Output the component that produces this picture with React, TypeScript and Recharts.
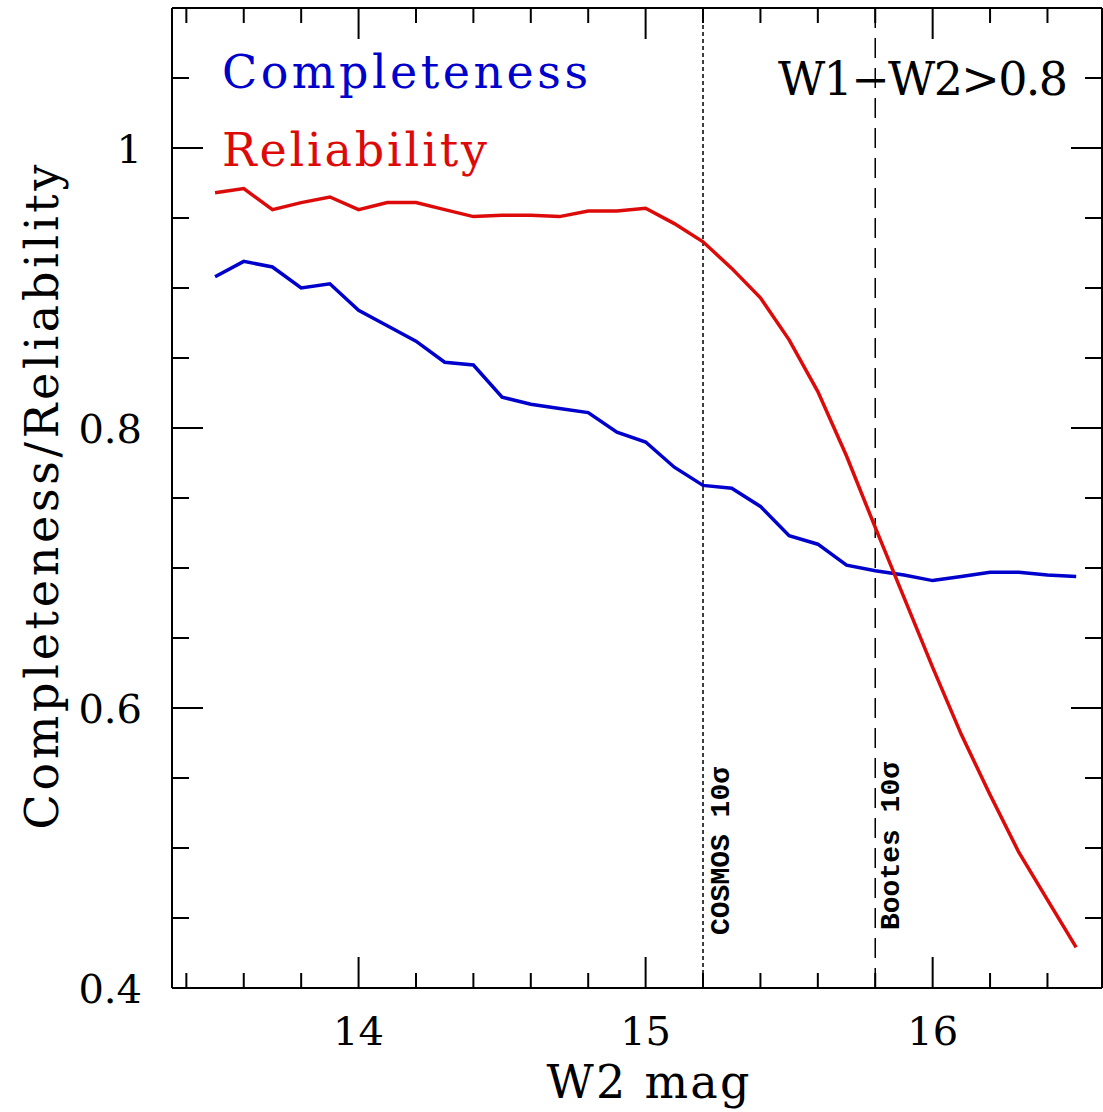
import { LineChart, Line, XAxis, YAxis, ReferenceLine } from "recharts";

// W2 magnitude bins
const mags = [
  13.5, 13.6, 13.7, 13.8, 13.9, 14.0, 14.1, 14.2, 14.3, 14.4, 14.5, 14.6, 14.7, 14.8, 14.9, 15.0,
  15.1, 15.2, 15.3, 15.4, 15.5, 15.6, 15.7, 15.8, 15.9, 16.0, 16.1, 16.2, 16.3, 16.4, 16.5,
];

const completeness = [
  0.908, 0.919, 0.915, 0.9, 0.903, 0.884, 0.873, 0.862, 0.847, 0.845, 0.822, 0.817, 0.814, 0.811, 0.797, 0.79,
  0.772, 0.759, 0.757, 0.744, 0.723, 0.717, 0.702, 0.698, 0.695, 0.691, 0.694, 0.697, 0.697, 0.695, 0.694,
];

const reliability = [
  0.968, 0.971, 0.956, 0.961, 0.965, 0.956, 0.961, 0.961, 0.956, 0.951, 0.952, 0.952, 0.951, 0.955, 0.955, 0.957,
  0.946, 0.933, 0.914, 0.893, 0.863, 0.826, 0.78, 0.729, 0.679, 0.629, 0.581, 0.538, 0.497, 0.463, 0.429,
];

const xMajor = [14, 15, 16];
const xMinor = [13.4, 13.6, 13.8, 14.2, 14.4, 14.6, 14.8, 15.2, 15.4, 15.6, 15.8, 16.2, 16.4];
const yMajor = [0.4, 0.6, 0.8, 1];
const yMinor = [0.45, 0.5, 0.55, 0.65, 0.7, 0.75, 0.85, 0.9, 0.95, 1.05];

const cosmosLimit = 15.2;
const bootesLimit = 15.8;

const BLUE = "#0000cc";
const RED = "#dd0a0a";
const SERIF = "'DejaVu Serif', serif";
const MONO = "'Liberation Mono', monospace";

const WIDTH = 1103;
const HEIGHT = 1112;
const MARGIN = { top: 8, right: 0, bottom: 123, left: 171 };
const AXIS_W = 1;

const data = mags.map((mag, i) => ({
  mag,
  completeness: completeness[i],
  reliability: reliability[i],
}));

const xTicks = [...xMajor, ...xMinor];
const yTicks = [...yMajor, ...yMinor];
const xDomain = [13.35, 16.59];
const yDomain = [0.4, 1.1];

// plot box, for the tick marks along the top edge of the frame
const plotLeft = MARGIN.left + AXIS_W;
const plotRight = WIDTH - MARGIN.right - AXIS_W;
const topX = (v: number): number =>
  plotLeft + ((v - xDomain[0]) / (xDomain[1] - xDomain[0])) * (plotRight - plotLeft);

const fmt = (v: number): string => (v === 1 ? "1" : String(v));

function BottomTick(props: any) {
  const { x, y, payload } = props;
  const major = xMajor.includes(payload.value);
  return (
    <g>
      <line x1={x} x2={x} y1={y} y2={y - (major ? 31 : 15)} stroke="#000" strokeWidth={2} />
      {major && (
        <text x={x} y={y + 57} textAnchor="middle" fontFamily={SERIF} fontSize={40} fill="#000">
          {payload.value}
        </text>
      )}
    </g>
  );
}

function LeftTick(props: any) {
  const { x, y, payload } = props;
  const major = yMajor.includes(payload.value);
  return (
    <g>
      <line x1={x} x2={x + (major ? 31 : 17)} y1={y} y2={y} stroke="#000" strokeWidth={2} />
      {major && (
        <text x={x - 30} y={y + 15} textAnchor="end" fontFamily={SERIF} fontSize={40} fill="#000">
          {fmt(payload.value)}
        </text>
      )}
    </g>
  );
}

function RightTick(props: any) {
  const { x, y, payload } = props;
  const major = yMajor.includes(payload.value);
  return <line x1={x} x2={x - (major ? 31 : 17)} y1={y} y2={y} stroke="#000" strokeWidth={2} />;
}

function limitLabel(text: string, dx: number, dy: number) {
  return (props: any) => {
    const vb = props.viewBox || {};
    const px = vb.x + dx;
    const py = vb.y + vb.height - dy;
    return (
      <text
        x={px}
        y={py}
        transform={`rotate(-90 ${px} ${py})`}
        fontFamily={MONO}
        fontWeight="bold"
        fontSize={28}
        fill="#000"
      >
        {text}
      </text>
    );
  };
}

const axisLine = { stroke: "#000", strokeWidth: 2 };

export default function App() {
  return (
    <div style={{ position: "absolute", left: 0, top: 0, width: WIDTH, height: HEIGHT, background: "#fff" }}>
      <LineChart width={WIDTH} height={HEIGHT} data={data} margin={MARGIN}>
        <XAxis
          dataKey="mag"
          type="number"
          domain={xDomain}
          ticks={xTicks}
          interval={0}
          height={AXIS_W}
          tickSize={0}
          tickMargin={0}
          tickLine={false}
          axisLine={axisLine}
          tick={BottomTick}
          allowDataOverflow
        />
        <YAxis
          type="number"
          domain={yDomain}
          ticks={yTicks}
          interval={0}
          width={AXIS_W}
          tickSize={0}
          tickMargin={0}
          tickLine={false}
          axisLine={axisLine}
          tick={LeftTick}
          allowDataOverflow
        />
        <YAxis
          yAxisId="right"
          orientation="right"
          type="number"
          domain={yDomain}
          ticks={yTicks}
          interval={0}
          width={AXIS_W}
          tickSize={0}
          tickMargin={0}
          tickLine={false}
          axisLine={axisLine}
          tick={RightTick}
          allowDataOverflow
        />
        <ReferenceLine y={yDomain[1]} stroke="#000" strokeWidth={2} />
        <ReferenceLine
          x={cosmosLimit}
          stroke="#000"
          strokeWidth={1.5}
          strokeDasharray="4 3"
          label={{ content: limitLabel("COSMOS 10σ", 26, 53) }}
        />
        <ReferenceLine
          x={bootesLimit}
          stroke="#000"
          strokeWidth={1.5}
          strokeDasharray="20 10"
          label={{ content: limitLabel("Bootes 10σ", 24, 58) }}
        />
        <Line
          type="linear"
          dataKey="completeness"
          stroke={BLUE}
          strokeWidth={3.5}
          dot={false}
          isAnimationActive={false}
        />
        <Line
          type="linear"
          dataKey="reliability"
          stroke={RED}
          strokeWidth={3.5}
          dot={false}
          isAnimationActive={false}
        />
        <text x={222} y={88} fontFamily={SERIF} fontSize={46} fill={BLUE} textLength={366} lengthAdjust="spacing">
          Completeness
        </text>
        <text x={222} y={166} fontFamily={SERIF} fontSize={46} fill={RED} textLength={265} lengthAdjust="spacing">
          Reliability
        </text>
        <text x={778} y={95} fontFamily={SERIF} fontSize={46} fill="#000" textLength={290} lengthAdjust="spacing">
          W1−W2&gt;0.8
        </text>
        <text
          x={58}
          y={497}
          transform="rotate(-90 58 497)"
          textAnchor="middle"
          fontFamily={SERIF}
          fontSize={46}
          fill="#000"
          textLength={665}
          lengthAdjust="spacing"
        >
          Completeness/Reliability
        </text>
        <text x={648} y={1098} textAnchor="middle" fontFamily={SERIF} fontSize={46} fill="#000" textLength={203} lengthAdjust="spacing">
          W2 mag
        </text>
      </LineChart>
      {/* inward ticks along the top edge, laid over the chart */}
      <svg
        width={WIDTH}
        height={60}
        style={{ position: "absolute", left: 0, top: 0, pointerEvents: "none" }}
      >
        {xTicks.map((v) => (
          <line
            key={v}
            x1={topX(v)}
            x2={topX(v)}
            y1={MARGIN.top}
            y2={MARGIN.top + (xMajor.includes(v) ? 31 : 15)}
            stroke="#000"
            strokeWidth={2}
          />
        ))}
      </svg>
    </div>
  );
}
